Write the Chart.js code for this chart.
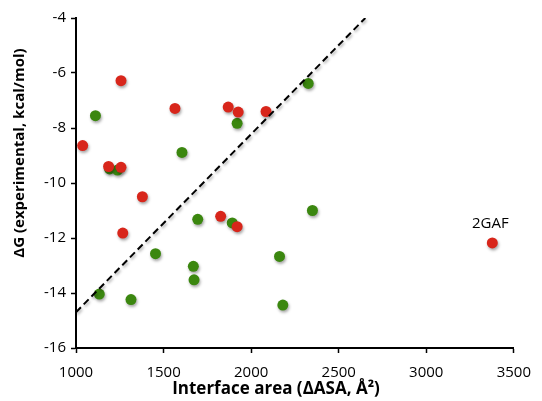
<!DOCTYPE html>
<html>
<head>
<meta charset="utf-8">
<script src="https://cdn.jsdelivr.net/npm/chart.js@4.4.1/dist/chart.umd.min.js"></script>
<style>
    html, body { margin: 0; padding: 0; background: #fff; }
    #wrap { width: 542px; height: 401px; }
</style>
</head>
<body>
<div id="wrap"><canvas id="chart"></canvas></div>
<script>
// Interface area (x) vs binding free energy (y)
const redX = [1038, 1257, 1565, 1869, 1926, 2085, 1186, 1257, 1379, 1267, 1826, 1920, 3377];
const redY = [-8.64, -6.28, -7.29, -7.24, -7.42, -7.40, -9.40, -9.43, -10.50, -11.82, -11.21, -11.59, -12.18];

const greenX = [1111, 1920, 1605, 1192, 1237, 2326, 1695, 1892, 1454, 1670, 1674, 2162, 1133, 1314, 2181, 2350];
const greenY = [-7.55, -7.83, -8.89, -9.49, -9.53, -6.38, -11.32, -11.45, -12.57, -13.03, -13.52, -12.67, -14.04, -14.24, -14.44, -11.00];

// dashed trend line end points
const lineX = [1000, 2652];
const lineY = [-14.7, -4];

const xTicks = [1000, 1500, 2000, 2500, 3000, 3500];
const yTicks = [-16, -14, -12, -10, -8, -6, -4];

const pointLabel = { x: 3377, y: -12.18, text: '2GAF' };

const xTitle = 'Interface area (\u0394ASA, \u00C5\u00B2)';
const yTitle = '\u0394G (experimental, kcal/mol)';

function toPoints(xs, ys) {
    return xs.map((x, i) => ({ x: x, y: ys[i] }));
}

// Draws axis titles and the point annotation
const annotations = {
    id: 'annotations',
    afterDraw(chart) {
        const ctx = chart.ctx;
        const xs = chart.scales.x;
        const ys = chart.scales.y;
        ctx.save();
        ctx.fillStyle = '#000';
        ctx.textAlign = 'center';
        ctx.textBaseline = 'middle';

        ctx.font = '15px "Open Sans"';
        ctx.fillText(pointLabel.text, xs.getPixelForValue(pointLabel.x) - 2, ys.getPixelForValue(pointLabel.y) - 19);

        ctx.font = 'bold 17px "Open Sans"';
        ctx.fillText(xTitle, 276, 389);

        ctx.font = 'bold 15px "Open Sans"';
        ctx.translate(20, 153);
        ctx.rotate(-Math.PI / 2);
        ctx.fillText(yTitle, 0, 0);
        ctx.restore();
    }
};

const markerShadow = {
    id: 'markerShadow',
    beforeDatasetsDraw(chart) {
        chart.ctx.save();
        chart.ctx.shadowColor = 'rgba(0,0,0,0.35)';
        chart.ctx.shadowBlur = 3;
        chart.ctx.shadowOffsetX = 1;
        chart.ctx.shadowOffsetY = 2;
    },
    afterDatasetsDraw(chart) {
        chart.ctx.restore();
    }
};

new Chart(document.getElementById('chart'), {
    type: 'scatter',
    data: {
        datasets: [
            {
                type: 'line',
                label: 'fit',
                data: toPoints(lineX, lineY),
                borderColor: '#000',
                borderWidth: 2,
                borderDash: [7, 4],
                pointRadius: 0,
                fill: false
            },
            {
                label: 'red',
                data: toPoints(redX, redY),
                backgroundColor: '#d8261b',
                borderColor: '#d8261b',
                pointRadius: 5.5,
                borderWidth: 0
            },
            {
                label: 'green',
                data: toPoints(greenX, greenY),
                backgroundColor: '#3b870f',
                borderColor: '#3b870f',
                pointRadius: 5.5,
                borderWidth: 0
            }
        ]
    },
    options: {
        responsive: true,
        maintainAspectRatio: false,
        animation: false,
        layout: {
            padding: { top: 18, right: 23, left: 0, bottom: 0 }
        },
        plugins: {
            legend: { display: false },
            tooltip: { enabled: false }
        },
        scales: {
            x: {
                type: 'linear',
                min: 1000,
                max: 3500,
                afterBuildTicks: (axis) => { axis.ticks = xTicks.map(v => ({ value: v })); },
                afterFit: (axis) => { axis.height = 53; },
                border: { color: '#000', width: 2 },
                grid: { drawOnChartArea: false, drawTicks: true, tickLength: 5, tickColor: '#000', tickWidth: 1.5 },
                ticks: {
                    color: '#000',
                    padding: 11,
                    maxRotation: 0,
                    callback: (v) => String(v),
                    font: { family: '"Open Sans"', size: 15 }
                }
            },
            y: {
                type: 'linear',
                min: -16,
                max: -4,
                afterBuildTicks: (axis) => { axis.ticks = yTicks.map(v => ({ value: v })); },
                afterFit: (axis) => { axis.width = 76; },
                border: { color: '#000', width: 2 },
                grid: { drawOnChartArea: false, drawTicks: true, tickLength: 5, tickColor: '#000', tickWidth: 1.5 },
                ticks: {
                    color: '#000',
                    padding: 5,
                    callback: (v) => String(v),
                    font: { family: '"Open Sans"', size: 15 }
                }
            }
        }
    },
    plugins: [markerShadow, annotations]
});
</script>
</body>
</html>
